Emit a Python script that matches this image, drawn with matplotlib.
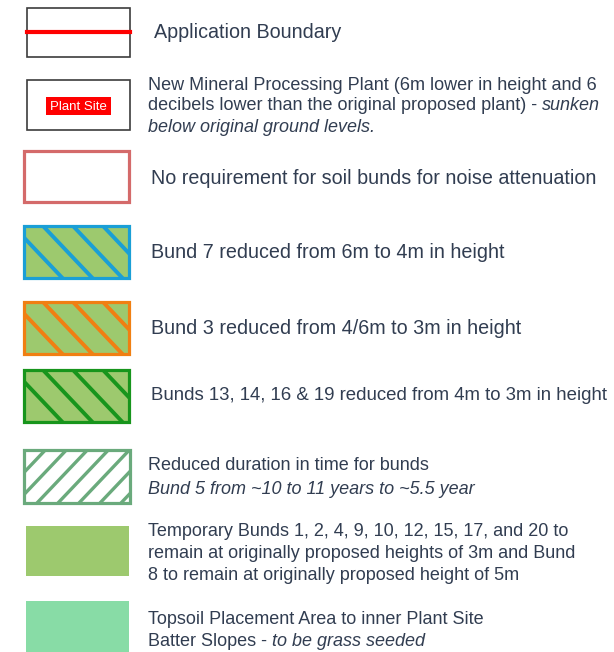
import matplotlib.pyplot as plt
from matplotlib.patches import Rectangle
from matplotlib.lines import Line2D

plt.rcParams['font.family'] = ['Liberation Sans', 'DejaVu Sans']

TXT = '#313d51'
BUND_GREEN = '#9dc96e'

# legend entries: (edge colour, fill colour, hatch direction)
entry_edges = ['#3c3c3c', '#3c3c3c', '#d46a6a', '#1a9fd6', '#f07f12', '#17951c', '#6aaa7c', None, None]
entry_fills = ['white', 'white', 'white', BUND_GREEN, BUND_GREEN, BUND_GREEN, 'white', BUND_GREEN, '#88dca6']
entry_hatch = [None, None, None, '\\', '\\', '\\', '/', None, None]

label_app = 'Application Boundary'
label_plant = ['New Mineral Processing Plant (6m lower in height and 6',
               ('decibels lower than the original proposed plant) - ', 'sunken'),
               ('', 'below original ground levels.')]
label_noreq = 'No requirement for soil bunds for noise attenuation'
label_b7 = 'Bund 7 reduced from 6m to 4m in height'
label_b3 = 'Bund 3 reduced from 4/6m to 3m in height'
label_b13 = 'Bunds 13, 14, 16 & 19 reduced from 4m to 3m in height'
label_dur = ['Reduced duration in time for bunds',
             ('', 'Bund 5 from ~10 to 11 years to ~5.5 year')]
label_temp = ['Temporary Bunds 1, 2, 4, 9, 10, 12, 15, 17, and 20 to',
              'remain at originally proposed heights of 3m and Bund',
              '8 to remain at originally proposed height of 5m']
label_top = ['Topsoil Placement Area to inner Plant Site',
             ('Batter Slopes - ', 'to be grass seeded')]

fig = plt.figure(figsize=(6.14, 6.52), dpi=100)
ax = fig.add_axes([0, 0, 1, 1])
ax.set_xlim(0, 614)
ax.set_ylim(652, 0)
ax.axis('off')

# box geometry (x, y, w, h) in pixels
boxes = [(27, 8, 103, 49), (27, 80, 103, 50), (24, 151, 105, 51), (24, 226, 105, 52),
         (24, 302, 105, 52), (24, 370, 105, 52), (24, 450, 106, 53), (26, 526, 103, 50),
         (26, 601, 103, 55)]

for i, (x, y, w, h) in enumerate(boxes):
    ec = entry_edges[i]
    lw = 1.2 if i < 2 else 2.3
    rect = Rectangle((x, y), w, h, facecolor=entry_fills[i], edgecolor='none', zorder=2)
    ax.add_patch(rect)
    hd = entry_hatch[i]
    if hd:
        step = 30 if hd == '\\' else 21
        off = -11 if hd == '\\' else -50
        while off < w + h:
            xs = [x + off, x + off + h * 0.95]
            ys = [y, y + h] if hd == '\\' else [y + h, y]
            ln = Line2D(xs, ys, color=ec, linewidth=2.8 if hd == '\\' else 2.4, zorder=3)
            ax.add_line(ln)
            ln.set_clip_path(rect)
            off += step
    if ec:
        ax.add_patch(Rectangle((x, y), w, h, facecolor='none', edgecolor=ec,
                               linewidth=lw, zorder=4))

# red boundary line
ax.plot([27, 130], [32, 32], color='#ff0000', linewidth=3, zorder=5)
# plant site tag
ax.add_patch(Rectangle((46, 97), 65, 18, facecolor='#ff0000', edgecolor='none', zorder=5))
ax.text(78.5, 106.5, 'Plant Site', color='white', fontsize=9.5, ha='center', va='center', zorder=6)

fig.canvas.draw()
renderer = fig.canvas.get_renderer()


def put_line(x, y, line, size):
    if isinstance(line, str):
        ax.text(x, y, line, fontsize=size, color=TXT, va='center')
        return
    normal, italic = line
    xi = x
    if normal:
        t = ax.text(x, y, normal, fontsize=size, color=TXT, va='center')
        bb = t.get_window_extent(renderer=renderer)
        xi = ax.transData.inverted().transform((bb.x1, bb.y0))[0]
    ax.text(xi, y, italic, fontsize=size, color=TXT, va='center', style='italic')


put_line(154, 33, label_app, 14.2)
for line, yy in zip(label_plant, [86, 106, 127]):
    put_line(148, yy, line, 13.0)
put_line(151, 179, label_noreq, 14.2)
put_line(151, 253, label_b7, 14.2)
put_line(151, 328, label_b3, 14.2)
put_line(151, 396, label_b13, 13.4)
for line, yy in zip(label_dur, [465, 489]):
    put_line(148, yy, line, 13.0)
for line, yy in zip(label_temp, [531, 553, 575]):
    put_line(148, yy, line, 13.0)
for line, yy in zip(label_top, [620, 642]):
    put_line(148, yy, line, 13.0)

fig.savefig('out.png', dpi=100)
